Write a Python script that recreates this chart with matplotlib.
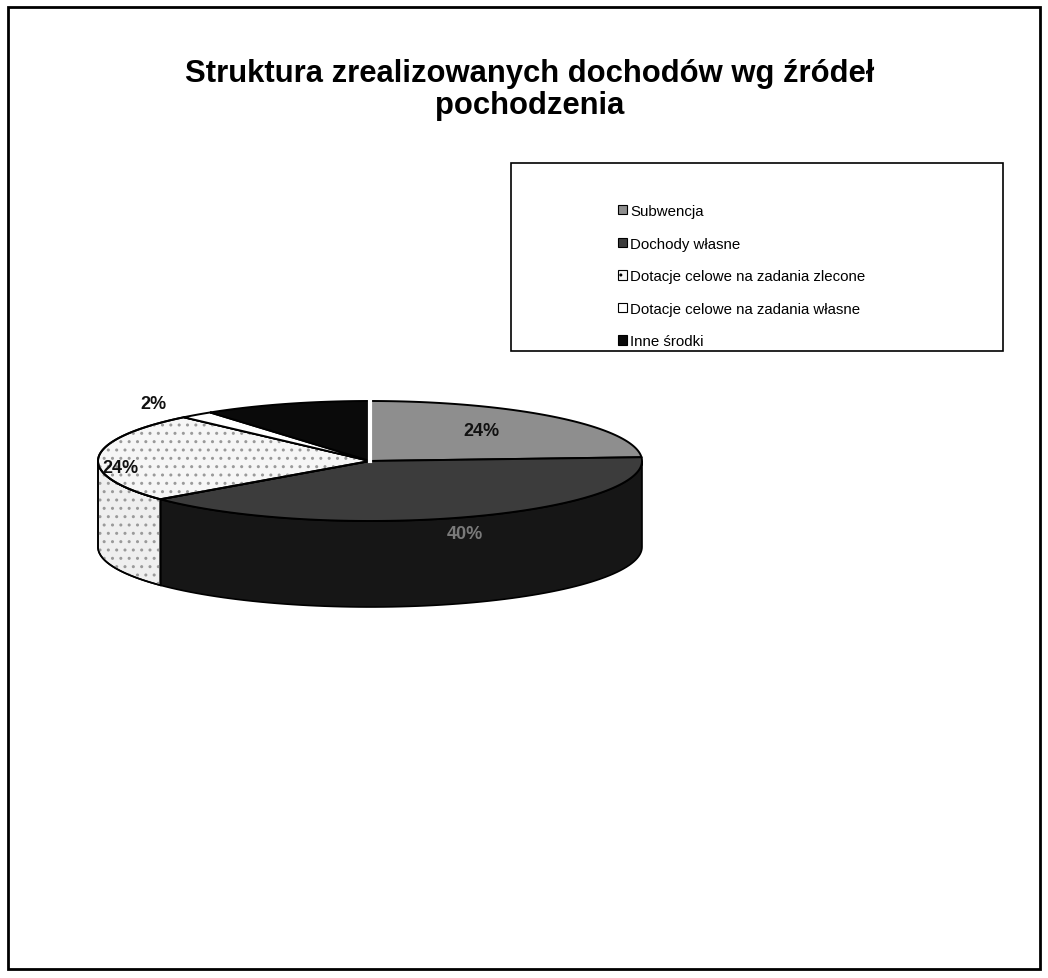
import numpy as np
import matplotlib
matplotlib.use("Agg")
import matplotlib.pyplot as plt
from matplotlib.patches import Polygon, Rectangle, Patch

plt.rcParams['font.family'] = ['Liberation Sans', 'DejaVu Sans']

# data
categories = ["Subwencja", "Dochody własne", "Dotacje celowe na zadania zlecone",
              "Dotacje celowe na zadania własne", "Inne środki"]
shares = [24, 40, 24, 2, 10]
pct_labels = ["24%", "40%", "24%", "2%", "10%"]

# styles
top_colors = ["#8e8e8e", "#3c3c3c", "#f6f6f6", "#ffffff", "#0a0a0a"]
side_colors = ["#5a5a5a", "#161616", "#efefef", "#e0e0e0", "#000000"]
hatches = [None, None, "..", None, None]
label_colors = ["#111111", "#7a7a7a", "#111111", "#111111", "#0a0a0a"]
label_r = [0.6, 0.95, 0.92, 1.25, 0.5]
label_dy = [-4, 20, 10, 0, 0]

W, H = 1048, 979
fig = plt.figure(figsize=(W / 100, H / 100), dpi=100)
ax = fig.add_axes([0, 0, 1, 1])
ax.set_xlim(0, W)
ax.set_ylim(H, 0)
ax.axis("off")

# outer frame
ax.add_patch(Rectangle((8, 8), 1032, 962, fill=False, ec="black", lw=2))

ax.text(530, 90, "Struktura zrealizowanych dochodów wg źródeł\npochodzenia",
        ha="center", va="center", fontsize=22.3, fontweight="bold", linespacing=1.08)

# pseudo 3d pie
cx, cy, rx, ry, depth = 370, 462, 272, 60, 86


def pt(theta, dy=0.0):
    t = np.radians(theta)
    return cx + rx * np.cos(t), cy - ry * np.sin(t) + dy


starts = 90 - np.cumsum([0] + shares[:-1]) * 3.6
ends = starts - np.array(shares) * 3.6

# sides (front half only: angles between -180 and 0)
for i in range(len(shares)):
    a, b = ends[i], starts[i]
    lo, hi = max(a, -180), min(b, 0)
    if lo >= hi:
        continue
    th = np.linspace(lo, hi, 80)
    top = [pt(t) for t in th]
    bot = [pt(t, depth) for t in th[::-1]]
    ax.add_patch(Polygon(top + bot, closed=True, fc=side_colors[i], ec="black", lw=1.2))
    if hatches[i]:
        ax.add_patch(Polygon(top + bot, closed=True, fc="none", ec="#9a9a9a",
                             hatch=hatches[i], lw=0))
        ax.add_patch(Polygon(top + bot, closed=True, fc="none", ec="black", lw=1.2))

# tops
for i in range(len(shares)):
    th = np.linspace(starts[i], ends[i], 120)
    verts = [(cx, cy)] + [pt(t) for t in th]
    ax.add_patch(Polygon(verts, closed=True, fc=top_colors[i], ec="black", lw=1.4))
    if hatches[i]:
        ax.add_patch(Polygon(verts, closed=True, fc="none", ec="#9a9a9a",
                             hatch=hatches[i], lw=0))
        ax.add_patch(Polygon(verts, closed=True, fc="none", ec="black", lw=1.4))

# white gap at 12 o'clock like the original
ax.plot([cx, cx], [cy - ry - 2, cy], color="white", lw=3)

for i in range(len(shares)):
    mid = (starts[i] + ends[i]) / 2
    t = np.radians(mid)
    x = cx + label_r[i] * rx * np.cos(t)
    y = cy - label_r[i] * ry * np.sin(t) + label_dy[i]
    ax.text(x, y, pct_labels[i], ha="center", va="center", fontsize=13,
            fontweight="bold", color=label_colors[i])

# legend
ax.add_patch(Rectangle((511, 164), 492, 188, fill=False, ec="black", lw=1.2))
handles = [Patch(fc=top_colors[i], ec="black", lw=0.8, hatch=hatches[i])
           for i in range(len(categories))]
fig.legend(handles, categories, loc="upper left",
           bbox_to_anchor=(618 / W, 1 - 205 / H), frameon=False,
           fontsize=10.8, labelspacing=1.24, handlelength=0.6, handleheight=0.6,
           handletextpad=0.2, borderpad=0, borderaxespad=0)

fig.savefig("out.png", dpi=100)
